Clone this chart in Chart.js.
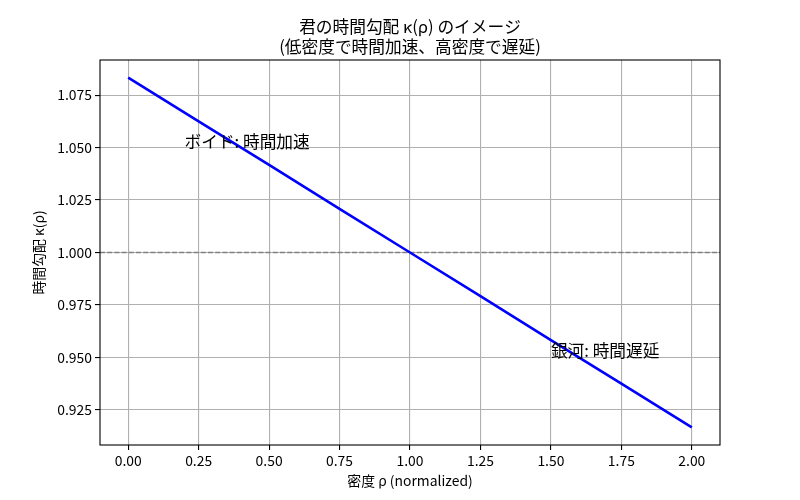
<!DOCTYPE html>
<html>

<head>
    <title>時間勾配 κ(ρ)</title>
    <script src="https://cdn.jsdelivr.net/npm/chart.js@4"></script>
    <style>
        body { margin: 0; background: #fff; }
        #wrap { width: 800px; height: 500px; }
    </style>
</head>

<body>
    <div id="wrap"><canvas id="chart"></canvas></div>
    <script>
        // density values (x) and the time gradient (y)
        const rho = [0.00, 0.25, 0.50, 0.75, 1.00, 1.25, 1.50, 1.75, 2.00];
        const kappa = [1.0833, 1.0625, 1.0417, 1.0208, 1.0000, 0.9792, 0.9583, 0.9375, 0.9167];

        // horizontal reference line
        const refLevel = 1.0;

        // tick labels
        const xTicks = [0.00, 0.25, 0.50, 0.75, 1.00, 1.25, 1.50, 1.75, 2.00];
        const yTicks = [0.925, 0.950, 0.975, 1.000, 1.025, 1.050, 1.075];

        // text annotations
        const noteText = ['ボイド: 時間加速', '銀河: 時間遅延'];
        const noteX = [0.2, 1.5];
        const noteY = [1.05, 0.95];

        const titleLines = ['君の時間勾配 κ(ρ) のイメージ', '(低密度で時間加速、高密度で遅延)'];

        const FONT = '"Noto Sans CJK JP", "Noto Sans", sans-serif';

        const xMin = -0.1, xMax = 2.1;
        const yMin = 0.9083, yMax = 1.0917;

        // title, frame and text notes drawn by hand (matplotlib-ish)
        const extras = {
            id: 'extras',
            afterDraw(chart) {
                const ctx = chart.ctx;
                const area = chart.chartArea;
                const xs = chart.scales.x, ys = chart.scales.y;
                ctx.save();
                ctx.strokeStyle = '#000';
                ctx.lineWidth = 1.1;
                ctx.strokeRect(area.left, area.top, area.right - area.left, area.bottom - area.top);

                ctx.fillStyle = '#000';
                ctx.font = '16.7px ' + FONT;
                ctx.textBaseline = 'alphabetic';
                ctx.textAlign = 'left';
                noteText.forEach((t, i) => {
                    ctx.fillText(t, xs.getPixelForValue(noteX[i]), ys.getPixelForValue(noteY[i]));
                });

                ctx.textAlign = 'center';
                const cx = (area.left + area.right) / 2;
                ctx.fillText(titleLines[0], cx, 33);
                ctx.fillText(titleLines[1], cx, 53);
                ctx.restore();
            }
        };

        const canvas = document.getElementById('chart');

        const chart = new Chart(canvas, {
            type: 'scatter',
            data: {
                datasets: [
                    {
                        label: 'κ(ρ)',
                        data: rho.map((r, i) => ({ x: r, y: kappa[i] })),
                        showLine: true,
                        borderColor: '#0000ff',
                        borderWidth: 2.6,
                        pointRadius: 0,
                        order: 1,
                    },
                    {
                        label: 'ref',
                        data: [{ x: xMin, y: refLevel }, { x: xMax, y: refLevel }],
                        showLine: true,
                        borderColor: '#808080',
                        borderWidth: 1.4,
                        borderDash: [5, 2.2],
                        pointRadius: 0,
                        order: 2,
                    },
                ],
            },
            options: {
                responsive: true,
                maintainAspectRatio: false,
                animation: false,
                layout: {
                    padding: { left: 0, right: 80, top: 60, bottom: 11 },
                },
                scales: {
                    x: {
                        type: 'linear',
                        min: xMin,
                        max: xMax,
                        afterBuildTicks: (scale) => {
                            scale.ticks = xTicks.map(v => ({ value: v }));
                        },
                        afterFit: (scale) => { scale.height = 44; },
                        ticks: {
                            color: '#000',
                            font: { family: FONT, size: 13.9 },
                            padding: 2,
                            maxRotation: 0,
                            callback: (v) => v.toFixed(2),
                        },
                        grid: {
                            color: '#b0b0b0',
                            lineWidth: 1.1,
                            tickColor: '#000',
                            tickLength: 5,
                        },
                        border: { display: false },
                        title: {
                            display: true,
                            text: '密度 ρ (normalized)',
                            color: '#000',
                            font: { family: FONT, size: 13.9 },
                            padding: { top: 0, bottom: 0 },
                        },
                    },
                    y: {
                        type: 'linear',
                        min: yMin,
                        max: yMax,
                        afterBuildTicks: (scale) => {
                            scale.ticks = yTicks.map(v => ({ value: v }));
                        },
                        afterFit: (scale) => { scale.width = 100; },
                        ticks: {
                            color: '#000',
                            font: { family: FONT, size: 13.9 },
                            padding: 3,
                            callback: (v) => v.toFixed(3),
                        },
                        grid: {
                            color: '#b0b0b0',
                            lineWidth: 1.1,
                            tickColor: '#000',
                            tickLength: 5,
                        },
                        border: { display: false },
                        title: {
                            display: true,
                            text: '時間勾配 κ(ρ)',
                            color: '#000',
                            font: { family: FONT, size: 13.9 },
                            padding: { top: 30, bottom: 0 },
                        },
                    },
                },
                plugins: {
                    legend: { display: false },
                    title: { display: false },
                    tooltip: { enabled: false },
                },
            },
            plugins: [extras],
        });
    </script>
</body>

</html>
